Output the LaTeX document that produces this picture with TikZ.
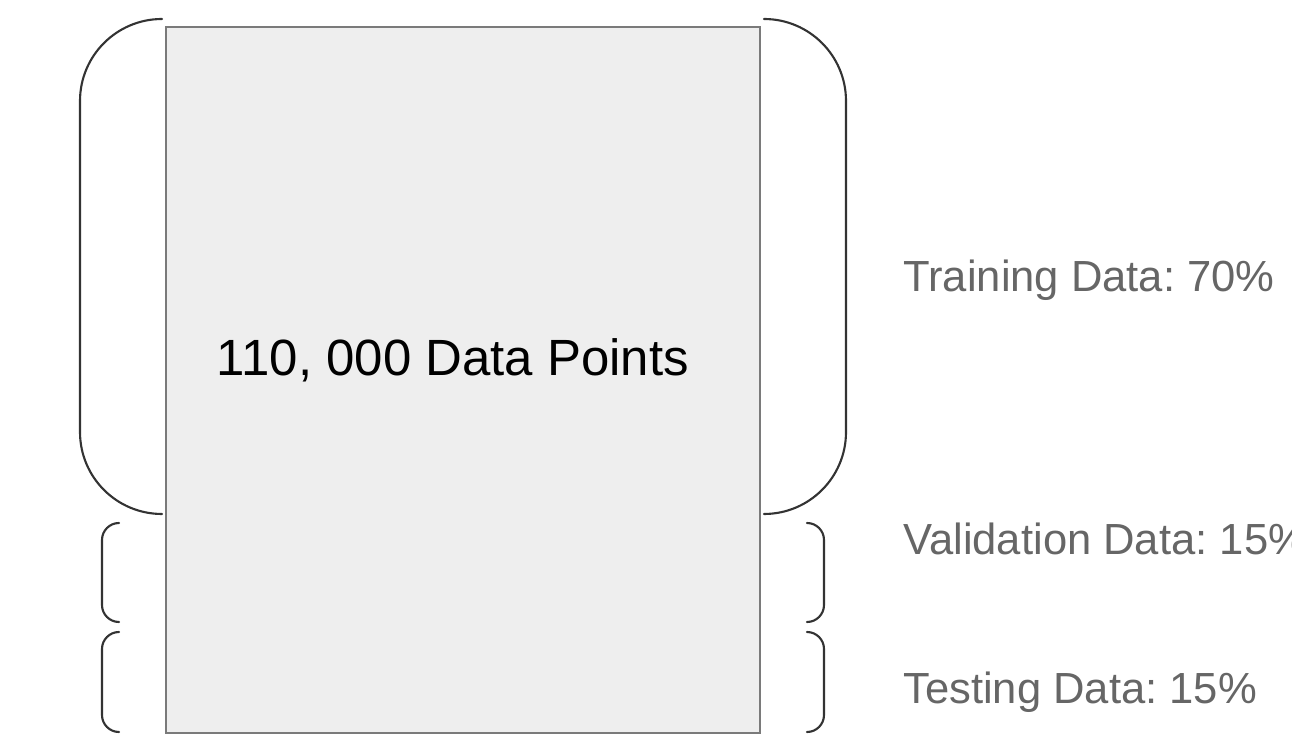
\documentclass[tikz,border=0pt]{standalone}
\usepackage{fontspec}
\setmainfont{Liberation Sans}
\usepackage{xcolor}
\definecolor{boxGray}{HTML}{EEEEEE}
\definecolor{boxEdge}{HTML}{7A7A7A}
\definecolor{labelGray}{HTML}{666666}
\definecolor{braceGray}{HTML}{333333}
\usepackage{tikz}
\usetikzlibrary{positioning}
\frenchspacing

\tikzset{
  brace/.style={draw=braceGray, line width=1.2pt, line cap=round},
  splitlabel/.style={anchor=base west, inner sep=0pt, text=labelGray,
    font=\fontsize{24.8}{29}\selectfont},
}

\begin{document}
\begin{tikzpicture}[x=0.02cm, y=-0.02cm]
      \useasboundingbox (0,0) rectangle (1292,742);

      % データ全体の箱
      \node (data) [draw=boxEdge, fill=boxGray, line width=0.8pt, inner sep=0pt,
        minimum width=594*0.02cm, minimum height=706*0.02cm] at (463,380) {};
      \node (total) [anchor=base, inner sep=0pt, font=\fontsize{29}{34}\selectfont]
        at (453,376) {110, 000 Data Points};

      % 左側の括弧
      \draw[brace, rounded corners=1.64cm] (162,19) -- (80,19) -- (80,514) -- (162,514);
      \draw[brace, rounded corners=0.34cm] (119,523) -- (102,523) -- (102,622) -- (119,622);
      \draw[brace, rounded corners=0.34cm] (119,632) -- (102,632) -- (102,732) -- (119,732);

      % 右側の括弧
      \draw[brace, rounded corners=1.64cm] (764,19) -- (846,19) -- (846,514) -- (764,514);
      \draw[brace, rounded corners=0.34cm] (807,523) -- (824,523) -- (824,622) -- (807,622);
      \draw[brace, rounded corners=0.34cm] (807,632) -- (824,632) -- (824,732) -- (807,732);

      % 各データの割合
      \node (train) [splitlabel] at (903,291.7) {Training Data: 70\%};
      \node (valid) [splitlabel] at (903,555) {Validation Data: 15\%};
      \node (test) [splitlabel] at (903,703.3) {Testing Data: 15\%};
    \end{tikzpicture}
\end{document}
